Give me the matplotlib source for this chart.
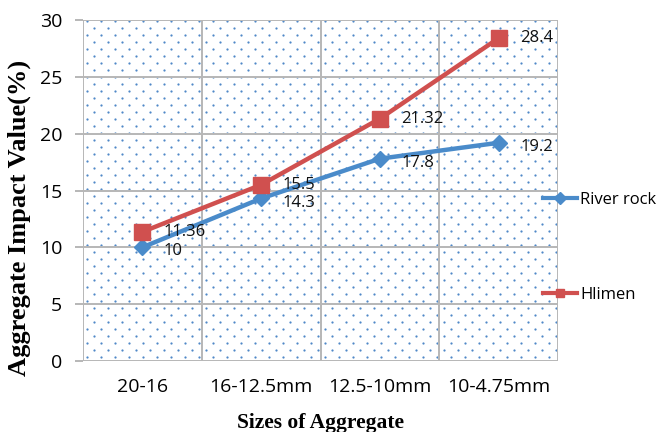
import numpy as np
import matplotlib.pyplot as plt

# data
sizes = ['20-16', '16-12.5mm', '12.5-10mm', '10-4.75mm']
river_rock = [10, 14.3, 17.8, 19.2]
hlimen = [11.36, 15.5, 21.32, 28.4]

blue = '#4a8bca'
red = '#d0504f'
grid_c = '#b7b7b7'

W, H = 659, 432
fig = plt.figure(figsize=(W/100, H/100), dpi=100)
ax = fig.add_axes([83/W, 71/H, 475/W, 341/H])

x = np.arange(len(sizes))
ax.set_xlim(-0.5, len(sizes) - 0.5)
ax.set_ylim(0, 30)

# dotted background pattern (staggered, ~14px x 7px)
pw, ph = 475, 341
dots_x, dots_y = [], []
for r, py in enumerate(np.arange(4, ph, 7)):
    off = 4 if r % 2 == 0 else 11
    for px in np.arange(off, pw, 14):
        dots_x.append(-0.5 + px/pw*len(sizes))
        dots_y.append(py/ph*30)
ax.scatter(dots_x, dots_y, s=2.6, color='#5088c8', linewidths=0, zorder=0)

for yv in range(0, 31, 5):
    ax.axhline(yv, color=grid_c, lw=1.4, zorder=1)
for xv in np.arange(-0.5, len(sizes), 1.0):
    ax.axvline(xv, color=grid_c, lw=1.4, zorder=1)

ax.plot(x, river_rock, color=blue, lw=3.2, marker='D', ms=8, label='River rock', zorder=3)
ax.plot(x, hlimen, color=red, lw=3.2, marker='s', ms=11, label='Hlimen', zorder=3)

lab_font = dict(fontsize=12, family='Open Sans', color='#111111')
for i, v in enumerate(river_rock):
    ax.annotate(f'{v:g}', (x[i], v), xytext=(15.5, -3), textcoords='offset points',
                va='center', ha='left', **lab_font)
for i, v in enumerate(hlimen):
    ax.annotate(f'{v:g}', (x[i], v), xytext=(15.5, 0), textcoords='offset points',
                va='center', ha='left', **lab_font)

for s in ax.spines.values():
    s.set_visible(False)
ax.set_xticks(x)
ax.set_xticklabels(sizes, fontsize=14, family='Open Sans')
ax.tick_params(axis='x', length=0, pad=12)
ax.set_yticks(range(0, 31, 5))
ax.tick_params(axis='y', length=6, color=grid_c, width=1.4, labelsize=14, pad=9)
for t in ax.get_yticklabels():
    t.set_family('Open Sans')

ax.set_xlabel('Sizes of Aggregate', family='Liberation Serif', fontweight='bold',
              fontsize=15.5)
ax.xaxis.set_label_coords(0.5, -0.152)
ax.set_ylabel('Aggregate Impact Value(%)', family='Liberation Serif', fontweight='bold',
              fontsize=19)
ax.yaxis.set_label_coords(-0.11, 0.42)

leg = fig.legend(loc='center left', bbox_to_anchor=(0.812, 0.428), frameon=False,
                 prop={'family': 'Open Sans', 'size': 12}, labelspacing=4.75,
                 handlelength=2.0, handletextpad=0.2, borderpad=0)
for h in leg.legend_handles:
    h.set_markersize(6)
    h.set_linewidth(3)

fig.savefig('out.png', dpi=100)
